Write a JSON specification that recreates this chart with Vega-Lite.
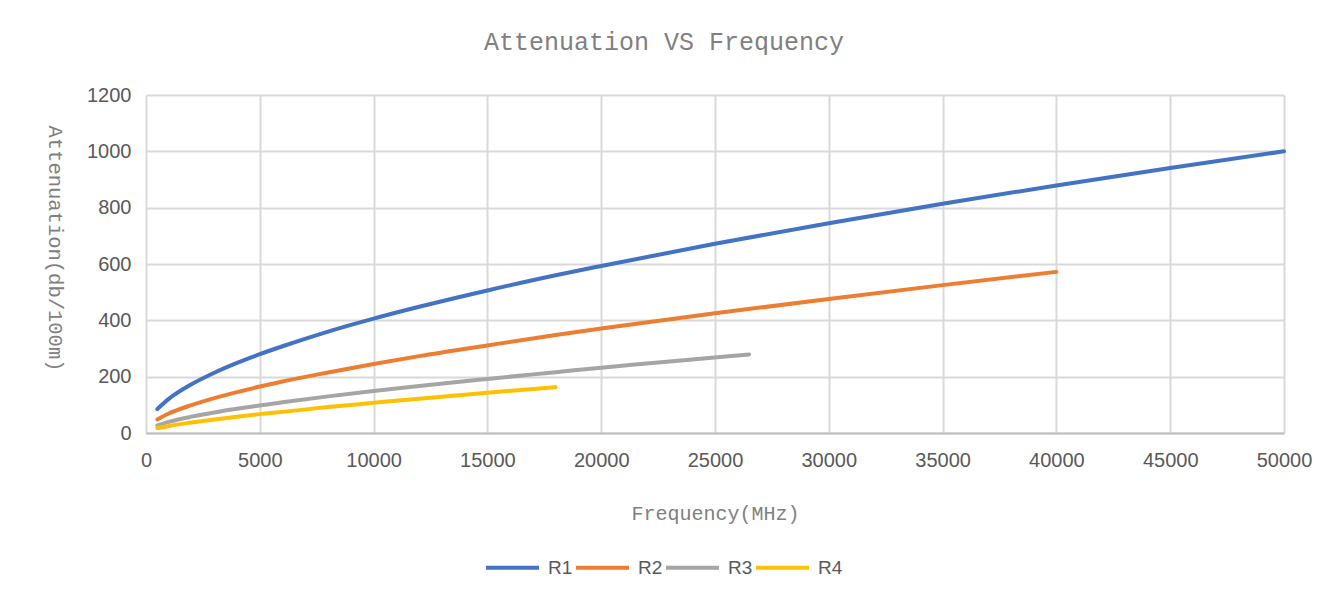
{
  "$schema": "https://vega.github.io/schema/vega-lite/v6.json",
  "width": 1138,
  "height": 338,
  "autosize": "none",
  "padding": {"left": 146, "top": 95, "right": 48, "bottom": 168},
  "background": "white",
  "title": {
    "text": "Attenuation VS Frequency",
    "font": "Liberation Mono",
    "fontSize": 25,
    "fontWeight": "normal",
    "color": "#808080",
    "anchor": "middle",
    "offset": 30,
    "dx": -51
  },
  "data": {
    "values": [
      {"series": "R1", "freq": 500, "att": 85},
      {"series": "R1", "freq": 1000, "att": 121},
      {"series": "R1", "freq": 2000, "att": 173},
      {"series": "R1", "freq": 3000, "att": 214},
      {"series": "R1", "freq": 4000, "att": 249},
      {"series": "R1", "freq": 5000, "att": 280},
      {"series": "R1", "freq": 6000, "att": 308},
      {"series": "R1", "freq": 8000, "att": 360},
      {"series": "R1", "freq": 10000, "att": 406},
      {"series": "R1", "freq": 12000, "att": 448},
      {"series": "R1", "freq": 15000, "att": 506},
      {"series": "R1", "freq": 18000, "att": 560},
      {"series": "R1", "freq": 20000, "att": 593},
      {"series": "R1", "freq": 25000, "att": 672},
      {"series": "R1", "freq": 30000, "att": 745},
      {"series": "R1", "freq": 35000, "att": 814},
      {"series": "R1", "freq": 40000, "att": 879},
      {"series": "R1", "freq": 45000, "att": 941},
      {"series": "R1", "freq": 50000, "att": 1000},
      {"series": "R2", "freq": 500, "att": 48},
      {"series": "R2", "freq": 1000, "att": 69},
      {"series": "R2", "freq": 2000, "att": 99},
      {"series": "R2", "freq": 3000, "att": 124},
      {"series": "R2", "freq": 4000, "att": 145},
      {"series": "R2", "freq": 5000, "att": 165},
      {"series": "R2", "freq": 6000, "att": 183},
      {"series": "R2", "freq": 8000, "att": 215},
      {"series": "R2", "freq": 10000, "att": 245},
      {"series": "R2", "freq": 12000, "att": 273},
      {"series": "R2", "freq": 15000, "att": 311},
      {"series": "R2", "freq": 18000, "att": 348},
      {"series": "R2", "freq": 20000, "att": 371},
      {"series": "R2", "freq": 25000, "att": 425},
      {"series": "R2", "freq": 30000, "att": 476},
      {"series": "R2", "freq": 35000, "att": 525},
      {"series": "R2", "freq": 40000, "att": 572},
      {"series": "R3", "freq": 500, "att": 27},
      {"series": "R3", "freq": 1000, "att": 39.5},
      {"series": "R3", "freq": 2000, "att": 58},
      {"series": "R3", "freq": 3000, "att": 73},
      {"series": "R3", "freq": 4000, "att": 86},
      {"series": "R3", "freq": 5000, "att": 98},
      {"series": "R3", "freq": 6000, "att": 109},
      {"series": "R3", "freq": 8000, "att": 130},
      {"series": "R3", "freq": 10000, "att": 149},
      {"series": "R3", "freq": 12000, "att": 167},
      {"series": "R3", "freq": 15000, "att": 192},
      {"series": "R3", "freq": 18000, "att": 216},
      {"series": "R3", "freq": 20000, "att": 232},
      {"series": "R3", "freq": 22000, "att": 246.5},
      {"series": "R3", "freq": 24000, "att": 261},
      {"series": "R3", "freq": 26500, "att": 279},
      {"series": "R4", "freq": 500, "att": 17},
      {"series": "R4", "freq": 1000, "att": 25},
      {"series": "R4", "freq": 2000, "att": 37},
      {"series": "R4", "freq": 3000, "att": 48},
      {"series": "R4", "freq": 4000, "att": 58},
      {"series": "R4", "freq": 5000, "att": 67},
      {"series": "R4", "freq": 6000, "att": 75},
      {"series": "R4", "freq": 8000, "att": 92},
      {"series": "R4", "freq": 10000, "att": 107},
      {"series": "R4", "freq": 12000, "att": 122},
      {"series": "R4", "freq": 15000, "att": 143},
      {"series": "R4", "freq": 18000, "att": 163}
    ]
  },
  "mark": {"type": "line", "strokeWidth": 4, "strokeCap": "round", "strokeJoin": "round", "interpolate": "monotone"},
  "encoding": {
    "x": {
      "field": "freq",
      "type": "quantitative",
      "title": "Frequency(MHz)",
      "scale": {"domain": [0, 50000], "nice": false, "zero": true},
      "axis": {
        "values": [0, 5000, 10000, 15000, 20000, 25000, 30000, 35000, 40000, 45000, 50000],
        "format": "d",
        "labelFont": "Liberation Sans",
        "labelFontSize": 20,
        "labelColor": "#595959",
        "labelPadding": 17,
        "labelFlush": false,
        "labelOverlap": false,
        "ticks": false,
        "domain": true,
        "domainColor": "#bfbfbf",
        "domainWidth": 2,
        "grid": true,
        "gridColor": "#d9d9d9",
        "gridWidth": 2,
        "titleFont": "Liberation Mono",
        "titleFontSize": 20,
        "titleFontWeight": "normal",
        "titleColor": "#808080",
        "titlePadding": 33
      }
    },
    "y": {
      "field": "att",
      "type": "quantitative",
      "title": "Attenuation(db/100m)",
      "scale": {"domain": [0, 1200], "nice": false},
      "axis": {
        "values": [0, 200, 400, 600, 800, 1000, 1200],
        "format": "d",
        "labelFont": "Liberation Sans",
        "labelFontSize": 20,
        "labelColor": "#595959",
        "labelPadding": 15,
        "labelFlush": false,
        "labelOverlap": false,
        "ticks": false,
        "domain": false,
        "grid": true,
        "gridColor": "#d9d9d9",
        "gridWidth": 2,
        "titleFont": "Liberation Mono",
        "titleFontSize": 20.5,
        "titleFontWeight": "normal",
        "titleColor": "#808080",
        "titleAngle": 90,
        "titlePadding": 42,
        "titleY": 153
      }
    },
    "color": {
      "field": "series",
      "type": "nominal",
      "scale": {"domain": ["R1", "R2", "R3", "R4"], "range": ["#4472C4", "#ED7D31", "#A5A5A5", "#FFC000"]},
      "legend": {
        "title": null,
        "orient": "none",
        "direction": "horizontal",
        "legendX": 338,
        "legendY": 444,
        "symbolType": "stroke",
        "symbolSize": 2809,
        "symbolStrokeWidth": 4,
        "labelFont": "Liberation Sans",
        "labelFontSize": 19,
        "labelColor": "#595959",
        "labelOffset": 7,
        "columnPadding": -5
      }
    }
  },
  "config": {"view": {"stroke": null}}
}
